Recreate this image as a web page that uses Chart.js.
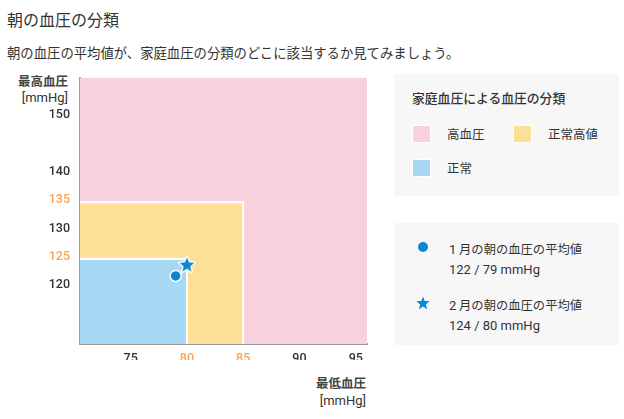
<!DOCTYPE html>
<html lang="ja">
<head>
<meta charset="utf-8">
<script src="https://cdn.jsdelivr.net/npm/chart.js@4.4.1/dist/chart.umd.min.js"></script>
<style>
  html, body { margin: 0; padding: 0; background: #fff; }
  body { width: 624px; height: 419px; position: relative; overflow: hidden;
         font-family: "Noto Sans CJK JP", "Noto Sans", sans-serif; color: #333; }
  .abs { position: absolute; line-height: 1; white-space: nowrap; }
  #title { left: 7px; top: 11px; font-size: 16px; color: #333; }
  #subtitle { left: 7px; top: 45.5px; font-size: 13.35px; color: #333; }
  #chartBox { position: absolute; left: 0; top: 60px; width: 380px; height: 310px; }
  .axt { font-size: 12.5px; font-weight: 700; color: #444; text-align: right; }
  .axu { font-family: Roboto, "Noto Sans", sans-serif; font-size: 13px; font-weight: 400; color: #333; text-align: right; }
  .panel { position: absolute; left: 394px; width: 225px; height: 122px; background: #f7f7f7; }
  .sw { position: absolute; width: 17px; height: 16px; border: 1px solid #fff; }
  .lt { font-size: 12px; color: #333; }
  .ln { font-family: Roboto, "Noto Sans", sans-serif; font-weight: 400; font-size: 13px; color: #333; }
</style>
</head>
<body>
<div id="title" class="abs">朝の血圧の分類</div>
<div id="subtitle" class="abs">朝の血圧の平均値が、家庭血圧の分類のどこに該当するか見てみましょう。</div>

<div id="yTitle1" class="abs axt" style="right:556px; top:74.5px;">最高血圧</div>
<div id="yTitle2" class="abs axu" style="right:556px; top:90.5px;">[mmHg]</div>
<div id="xTitle1" class="abs axt" style="right:258px; top:377px;">最低血圧</div>
<div id="xTitle2" class="abs axu" style="right:258px; top:394px;">[mmHg]</div>

<div id="chartBox"><canvas id="c"></canvas></div>

<div class="panel" style="top:74px;" id="legend1"></div>
<div class="panel" style="top:223px;" id="legend2"></div>

<script>
// ---- data ----
const xRange = [70.5, 96];          // 最低血圧 axis range
const yRange = [110, 157];          // 最高血圧 axis range
const xTicks = [75, 80, 85, 90, 95];
const yTicks = [120, 125, 130, 135, 140, 150];
const xHighlightTicks = [80, 85];
const yHighlightTicks = [125, 135];

const categories = ['高血圧', '正常高値', '正常'];
const categorySysLimit = [null, 135, 125];   // upper systolic limit
const categoryDiaLimit = [null, 85, 80];     // upper diastolic limit
const categoryColors = ['#f7d1dc', '#fde096', '#a7d8f3'];

const readingLabels = ['1 月の朝の血圧の平均値', '2 月の朝の血圧の平均値'];
const readingMonthNum = ['1', '2'];
const readingSys = [122, 124];
const readingDia = [79, 80];
const readingStyles = ['circle', 'star'];

const markerColor = '#0a88d1';
const orange = '#f7a54e';

// ---- star image ----
function drawStar(ctx, cx, cy, rOut, rIn, fill, stroke, lw) {
  ctx.beginPath();
  for (let i = 0; i < 10; i++) {
    const r = i % 2 === 0 ? rOut : rIn;
    const a = -Math.PI / 2 + i * Math.PI / 5;
    const px = cx + r * Math.cos(a), py = cy + r * Math.sin(a);
    if (i === 0) ctx.moveTo(px, py); else ctx.lineTo(px, py);
  }
  ctx.closePath();
  if (stroke) { ctx.lineWidth = lw; ctx.strokeStyle = stroke; ctx.lineJoin = 'round'; ctx.stroke(); }
  ctx.fillStyle = fill; ctx.fill();
}
const starImg = document.createElement('canvas');
starImg.width = 20; starImg.height = 20;
drawStar(starImg.getContext('2d'), 10, 10.6, 7.8, 3.4, markerColor, '#fff', 3);

// ---- datasets ----
const datasets = [];
categories.forEach((name, i) => {
  const s = categorySysLimit[i], d = categoryDiaLimit[i];
  const pts = s === null
    ? [{x: xRange[0], y: yRange[1]}, {x: xRange[1], y: yRange[1]}]
    : [{x: xRange[0], y: s}, {x: d, y: s}, {x: d, y: yRange[0]}];
  datasets.push({
    label: name, data: pts, showLine: true, fill: 'start',
    backgroundColor: categoryColors[i],
    borderColor: '#ffffff', borderWidth: s === null ? 0 : 2,
    pointRadius: 0, tension: 0, order: 10 - i
  });
});
readingLabels.forEach((name, i) => {
  datasets.push({
    label: name, data: [{x: readingDia[i], y: readingSys[i]}],
    pointStyle: readingStyles[i] === 'star' ? starImg : 'circle',
    pointRadius: readingStyles[i] === 'star' ? 8 : 5.5,
    backgroundColor: markerColor, borderColor: '#fff', borderWidth: 1.5,
    showLine: false, order: 0
  });
});

new Chart(document.getElementById('c'), {
  type: 'scatter',
  data: { datasets },
  options: {
    responsive: true, maintainAspectRatio: false, animation: false,
    events: [],
    layout: { padding: { left: 0, top: 13, right: 13, bottom: 10 } },
    plugins: { legend: { display: false }, tooltip: { enabled: false } },
    scales: {
      x: {
        type: 'linear', min: xRange[0], max: xRange[1],
        afterBuildTicks: (ax) => { ax.ticks = xTicks.map(v => ({ value: v })); },
        afterFit: (ax) => { ax.height = 16; },
        grid: { display: true, color: 'rgba(0,0,0,0)', drawTicks: false },
        border: { display: true, color: '#9d9d9d', width: 2 },
        ticks: {
          padding: 7, autoSkip: false, maxRotation: 0,
          font: { family: 'Roboto', size: 12.5, weight: '500' },
          color: (c) => xHighlightTicks.includes(c.tick.value) ? orange : '#333'
        }
      },
      y: {
        type: 'linear', min: yRange[0], max: yRange[1],
        afterBuildTicks: (ax) => { ax.ticks = yTicks.map(v => ({ value: v })); },
        afterFit: (ax) => { ax.width = 80; },
        grid: { display: true, color: 'rgba(0,0,0,0)', drawTicks: false },
        border: { display: true, color: '#9d9d9d', width: 2 },
        ticks: {
          padding: 10, autoSkip: false, labelOffset: -2,
          font: { family: 'Roboto', size: 12.5, weight: '500' },
          color: (c) => yHighlightTicks.includes(c.tick.value) ? orange : '#333'
        }
      }
    }
  }
});

// ---- HTML legends ----
const lg1 = document.getElementById('legend1');
let h = '<div class="abs" style="left:18px; top:18px; font-size:12.8px; font-weight:500; color:#333;">家庭血圧による血圧の分類</div>';
const swPos = [[18, 51], [119, 51], [18, 85]];
categories.forEach((name, i) => {
  const [l, t] = swPos[i];
  h += `<div class="sw" style="left:${l}px; top:${t}px; background:${categoryColors[i]};"></div>`;
  h += `<div class="abs lt" style="left:${l + 35}px; top:${t + 3}px; font-size:12.5px;">${name}</div>`;
});
lg1.innerHTML = h;

const lg2 = document.getElementById('legend2');
let h2 = '';
const rowTop = [20, 76];
readingLabels.forEach((name, i) => {
  const t = rowTop[i];
  if (readingStyles[i] === 'circle') {
    h2 += `<div style="position:absolute; left:24px; top:${t - 1}px; width:10px; height:10px; border-radius:50%; background:${markerColor};"></div>`;
  } else {
    h2 += `<canvas id="lgStar" width="16" height="16" style="position:absolute; left:21px; top:${t - 4}px;"></canvas>`;
  }
  const rest = name.slice(readingMonthNum[i].length);
  h2 += `<div class="abs lt" style="left:55px; top:${t}px; font-size:12.3px;"><span class="ln">${readingMonthNum[i]}</span>${rest}</div>`;
  h2 += `<div class="abs ln" style="left:55px; top:${t + 20}px;">${readingSys[i]} / ${readingDia[i]} mmHg</div>`;
});
lg2.innerHTML = h2;
drawStar(document.getElementById('lgStar').getContext('2d'), 8, 8.5, 7, 3, markerColor, null, 0);
</script>
</body>
</html>
